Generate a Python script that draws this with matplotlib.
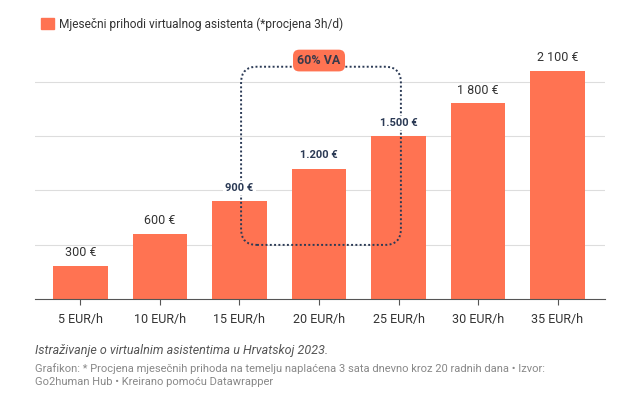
import matplotlib.pyplot as plt
from matplotlib.patches import FancyBboxPatch, Patch

# Données
categories = ['5 EUR/h', '10 EUR/h', '15 EUR/h', '20 EUR/h', '25 EUR/h', '30 EUR/h', '35 EUR/h']
values = [300, 600, 900, 1200, 1500, 1800, 2100]
value_labels = ['300 €', '600 €', '900 €', '1.200 €', '1.500 €', '1 800 €', '2 100 €']
highlight = [False, False, True, True, True, False, False]

bar_color = '#ff7352'
navy = '#2b3a55'
plt.rcParams['font.family'] = ['Roboto', 'DejaVu Sans']

fig = plt.figure(figsize=(6.37, 3.98), dpi=100)
ax = fig.add_axes([35 / 637, 1 - 299 / 398, 570 / 637, 239 / 398])

x = list(range(len(categories)))
ax.bar(x, values, width=0.69, color=bar_color, zorder=2)

ax.set_xlim(-0.572, 6.597)
ax.set_ylim(0, 2200)
ax.set_yticks([500, 1000, 1500, 2000])
ax.yaxis.grid(True, color='#dddddd', lw=0.8, zorder=0)
ax.tick_params(axis='y', left=False, labelleft=False)
ax.set_xticks(x)
ax.set_xticklabels(categories, fontsize=9, color='#333333')
ax.tick_params(axis='x', length=4, color='#555555', pad=6)
for s in ['top', 'right', 'left']:
    ax.spines[s].set_visible(False)
ax.spines['bottom'].set_color('#555555')

# Etiquettes des valeurs
for xi, v, lab, h in zip(x, values, value_labels, highlight):
    if h:
        ax.annotate(lab, (xi, v), xytext=(0, 6), textcoords='offset points',
                    ha='center', va='bottom', fontsize=8, fontweight='bold', color=navy,
                    bbox=dict(facecolor='white', edgecolor='none', pad=1.5), zorder=5)
    else:
        ax.annotate(lab, (xi, v), xytext=(0, 5), textcoords='offset points',
                    ha='center', va='bottom', fontsize=9, color='#333333', zorder=5)

# Cadre pointillé "60% VA"
box = FancyBboxPatch((2.02, 498), 2.01, 1640,
                     boxstyle='round,pad=0,rounding_size=0.2',
                     mutation_aspect=733, fill=False, ec=navy, lw=1.4,
                     ls=(0, (1, 1.2)), zorder=4, clip_on=False)
ax.add_patch(box)
ax.text(3.0, 2195, '60% VA', ha='center', va='center', fontsize=9, fontweight='bold',
        color='#3a3a4a', zorder=6, clip_on=False,
        bbox=dict(boxstyle='round,pad=0.35,rounding_size=0.5', facecolor=bar_color, edgecolor='none'))

# Légende
fig.legend(handles=[Patch(color=bar_color, label='Mjesečni prihodi virtualnog asistenta (*procjena 3h/d)')],
           loc='center left', bbox_to_anchor=(30 / 637, 1 - 24 / 398), frameon=False,
           fontsize=8.6, handlelength=1.1, handleheight=1.1, handletextpad=0.4,
           labelcolor='#333333')

# Notes
fig.text(35 / 637, 1 - 350 / 398, 'Istraživanje o virtualnim asistentima u Hrvatskoj 2023.',
         fontsize=9, style='italic', color='#555555', va='center')
fig.text(35 / 637, 1 - 369 / 398,
         'Grafikon: * Procjena mjesečnih prihoda na temelju naplaćena 3 sata dnevno kroz 20 radnih dana • Izvor:',
         fontsize=8, color='#888888', va='center')
fig.text(35 / 637, 1 - 382 / 398, 'Go2human Hub • Kreirano pomoću Datawrapper',
         fontsize=8, color='#888888', va='center')

plt.savefig('out.png', dpi=100)
plt.close()
